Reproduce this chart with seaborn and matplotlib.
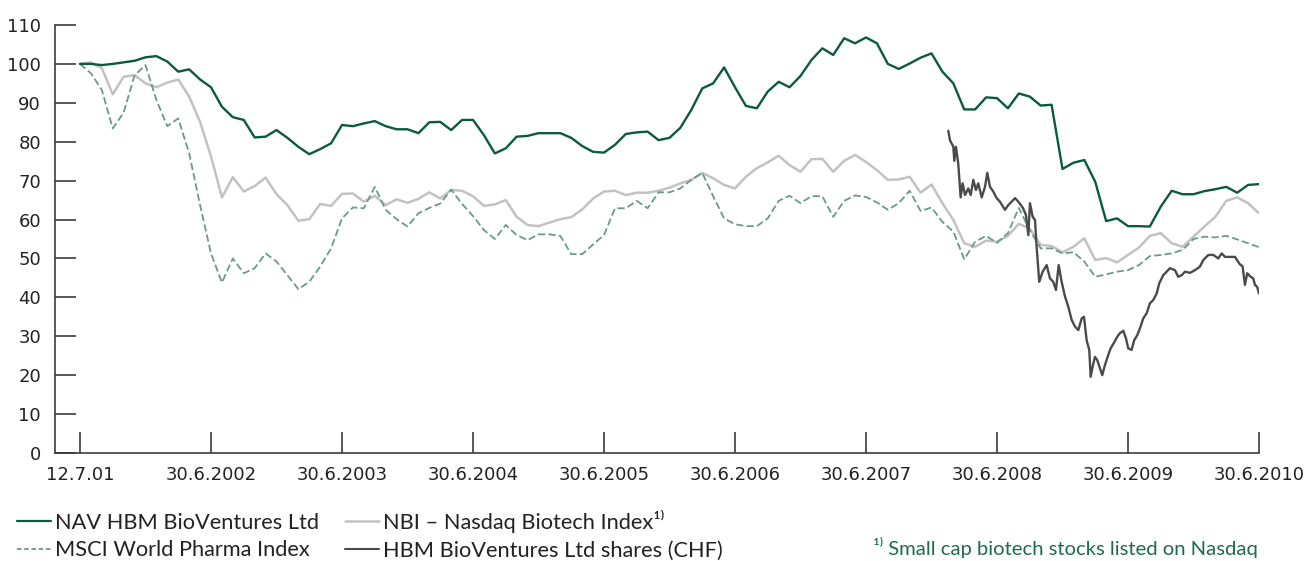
import numpy as np
import pandas as pd
import seaborn as sns
import matplotlib.pyplot as plt
from matplotlib.lines import Line2D

# monthly index values, 12.7.2001 = 100, month 0 .. 108 (30.6.2010)
nav = [100, 100, 99.7, 100, 100.4, 100.8, 101.7, 102, 100.6, 98, 98.6, 96,
       94, 89, 86.3, 85.6, 81.1, 81.3, 83, 81, 78.7, 76.8, 78.1, 79.6,
       84.3, 84, 84.7, 85.3, 84, 83.2, 83.2, 82.2, 85, 85.1, 83, 85.6,
       85.6, 81.7, 77, 78.3, 81.3, 81.5, 82.2, 82.2, 82.2, 81, 78.9, 77.4,
       77.2, 79.2, 82, 82.4, 82.6, 80.4, 81, 83.6, 88.2, 93.7, 95, 99.1,
       94, 89.2, 88.6, 92.9, 95.4, 94, 96.9, 101, 104, 102.3, 106.6, 105.3,
       106.8, 105.3, 100, 98.7, 100.1, 101.6, 102.7, 98, 95, 88.3, 88.3, 91.4,
       91.2, 88.6, 92.4, 91.6, 89.3, 89.5, 73, 74.6, 75.3, 69.7, 59.6, 60.3,
       58.3, 58.3, 58.2, 63.3, 67.4, 66.5, 66.5, 67.3, 67.8, 68.4, 66.9, 68.9,
       69.1]

nbi = [100, 100.4, 98.9, 92.2, 96.7, 97.1, 95, 94, 95.2, 96, 91.6, 85.1,
       76.2, 65.7, 70.9, 67.2, 68.6, 70.8, 66.5, 63.7, 59.7, 60.1, 64, 63.5,
       66.6, 66.7, 64.6, 66.1, 63.7, 65.2, 64.3, 65.3, 67, 65.4, 67.6, 67.4,
       66, 63.5, 63.9, 65, 60.7, 58.6, 58.3, 59.2, 60.1, 60.6, 62.6, 65.4,
       67.2, 67.4, 66.3, 66.9, 66.9, 67.4, 68.2, 69.3, 70.2, 72, 70.6, 68.9,
       68, 71, 73.2, 74.7, 76.4, 74, 72.3, 75.5, 75.6, 72.3, 75.1, 76.6,
       74.8, 72.7, 70.2, 70.3, 71, 66.9, 69, 64.2, 59.9, 53.9, 53, 54.6,
       54.3, 55.8, 58.9, 57.7, 53.5, 53.2, 51.6, 53, 55.2, 49.6, 50.1, 49,
       50.9, 52.8, 55.8, 56.5, 53.9, 53, 55.6, 58.2, 60.7, 64.8, 65.7, 64.2,
       61.6]

msci = [100, 97.6, 93.3, 83.4, 87.5, 97.1, 99.7, 90.7, 84, 86, 77, 63.7,
        51.3, 43.8, 50, 46.2, 47.5, 51.3, 49.2, 45.7, 42.1, 44, 47.9, 52.6,
        60.3, 63.1, 62.9, 68.4, 62.5, 60.1, 58.2, 61.6, 63, 64.1, 67.7, 64,
        60.9, 57.3, 55, 58.6, 56, 54.7, 56.2, 56.2, 55.8, 51.1, 51.1, 53.6,
        56, 62.9, 62.9, 64.8, 62.9, 67, 67, 68, 70.2, 72, 66, 60.3,
        58.8, 58.3, 58.3, 60.3, 64.8, 66.1, 64.2, 66, 66, 60.7, 64.8, 66.2,
        65.8, 64.4, 62.5, 64.2, 67.4, 62.2, 63.1, 59.4, 56.9, 49.8, 54.3, 55.8,
        54, 56.5, 63, 57.3, 52.6, 52.6, 51.3, 51.6, 49.2, 45.3, 45.9, 46.6,
        47, 48.3, 50.6, 50.9, 51.3, 52.2, 55, 55.6, 55.4, 55.8, 54.9, 53.9,
        52.9]

# HBM BioVentures shares (CHF), listed from late 2007, months after 12.7.2001
shares_month = [79.54, 79.69, 80.0, 80.09, 80.24, 80.45, 80.67, 80.85, 81.07, 81.37,
                81.59, 81.83, 82.07, 82.28, 82.6, 82.9, 83.11, 83.36, 83.66, 83.97,
                84.27, 84.73, 85.03, 85.34, 85.65, 85.95, 86.35, 86.65, 86.87, 87.02,
                87.27, 87.48, 87.63, 87.87, 88.18, 88.55, 88.85, 89.15, 89.4, 89.65,
                89.92, 90.23, 90.53, 90.84, 91.14, 91.45, 91.76, 91.97, 92.21, 92.45,
                92.58, 92.76, 92.97, 93.18, 93.43, 93.64, 93.89, 94.19, 94.41, 94.71,
                95.02, 95.26, 95.57, 95.81, 96.02, 96.33, 96.57, 96.85, 97.09, 97.4,
                97.71, 98.01, 98.31, 98.63, 98.86, 99.23, 99.54, 99.84, 100.3, 100.6,
                100.92, 101.22, 101.68, 102.14, 102.59, 102.9, 103.36, 103.82, 104.27, 104.58,
                104.89, 105.34, 105.8, 106.19, 106.5, 106.71, 106.92, 107.23, 107.47, 107.63,
                107.83, 108.0]
shares = [82.8, 80.4, 78.7, 75.1, 78.7, 74.4, 65.7, 69.3, 66.3, 68,
          66.3, 70.2, 67.6, 69.3, 65.7, 68.4, 72, 68.4, 67.2, 65.5,
          64.6, 62.5, 63.7, 64.6, 65.5, 64.6, 63.1, 61.2, 56, 64.2,
          60.7, 59.9, 53, 44, 46.6, 48.3, 44.9, 44, 41.9, 48.3,
          44, 40.2, 37.6, 34.2, 32.5, 31.6, 34.6, 35, 29, 26.5,
          19.6, 22.2, 24.7, 23.9, 21.8, 20, 22.6, 25.2, 26.9, 28.3,
          29.9, 30.8, 31.4, 29.5, 26.9, 26.5, 29, 30.3, 32, 34.6,
          35.9, 38.5, 39.3, 41, 43.6, 45.7, 46.6, 47.5, 47, 45.3,
          45.7, 46.6, 46.3, 47, 47.9, 49.6, 50.9, 50.9, 50, 51.3,
          50.4, 50.4, 50.4, 48.7, 47.9, 43.2, 46.2, 45.3, 44.9, 43.2,
          42.7, 41]

tick_labels = ["12.7.01", "30.6.2002", "30.6.2003", "30.6.2004", "30.6.2005",
               "30.6.2006", "30.6.2007", "30.6.2008", "30.6.2009", "30.6.2010"]

c_nav = "#0b5a3b"
c_nbi = "#c2c2c4"
c_msci = "#6b9a84"
c_shares = "#4a4a4c"
c_axis = "#3c3c3c"

sns.set_style("white")
plt.rcParams["font.family"] = ["DejaVu Sans"]

months = np.arange(len(nav))
df = pd.DataFrame({"month": months, "nav": nav, "nbi": nbi, "msci": msci})
df_sh = pd.DataFrame({"month": shares_month, "shares": shares})

fig = plt.figure(figsize=(13.06, 5.61), dpi=100)
ax = fig.add_axes([55 / 1306, 1 - 453 / 561, (1259 - 55) / 1306, (453 - 25) / 561])

msci_ls = (0, (4, 1.8))
sns.lineplot(data=df, x="month", y="nbi", ax=ax, color=c_nbi, lw=1.8)
sns.lineplot(data=df, x="month", y="msci", ax=ax, color=c_msci, lw=1.3, linestyle=msci_ls)
sns.lineplot(data=df, x="month", y="nav", ax=ax, color=c_nav, lw=1.7)
sns.lineplot(data=df_sh, x="month", y="shares", ax=ax, color=c_shares, lw=1.7)

ax.set_xlim((55 - 80) / 10.917, 108)
ax.set_ylim(0, 110)
ax.set_yticks(range(0, 111, 10))
ax.set_xticks(np.arange(0, 109, 12))
ax.set_xticklabels(tick_labels)
ax.set_xlabel("")
ax.set_ylabel("")

for s in ["top", "right"]:
    ax.spines[s].set_visible(False)
for s in ["left", "bottom"]:
    ax.spines[s].set_color(c_axis)
    ax.spines[s].set_linewidth(1.2)

ax.tick_params(axis="y", direction="in", length=15, width=1.2, color=c_axis,
               labelsize=13, labelcolor="#222222", pad=10, left=True)
ax.tick_params(axis="x", direction="in", length=15, width=1.2, color=c_axis,
               labelsize=13, labelcolor="#222222", pad=9, bottom=True)

fam = ["Lato", "DejaVu Sans"]
handles = [
    Line2D([], [], color=c_nav, lw=1.6),
    Line2D([], [], color=c_msci, lw=1.3, ls=(0, (2.5, 1.5))),
    Line2D([], [], color=c_nbi, lw=1.8),
    Line2D([], [], color=c_shares, lw=1.5),
]
labels = ["NAV HBM BioVentures Ltd", "MSCI World Pharma Index",
          "NBI – Nasdaq Biotech Index¹⁾", "HBM BioVentures Ltd shares (CHF)"]
fig.legend(handles, labels, loc="lower left", bbox_to_anchor=(-0.002, -0.034), ncol=2,
           frameon=False, handlelength=1.55, handletextpad=0.2, columnspacing=1.2,
           labelspacing=0.35, prop={"family": fam, "size": 15.7}, labelcolor="#222222")

fig.text(0.9635, 0.006, "¹⁾ Small cap biotech stocks listed on Nasdaq", ha="right",
         va="bottom", color="#1f6b4c", fontsize=14.6, family=fam)

fig.savefig("out.png", dpi=100)
